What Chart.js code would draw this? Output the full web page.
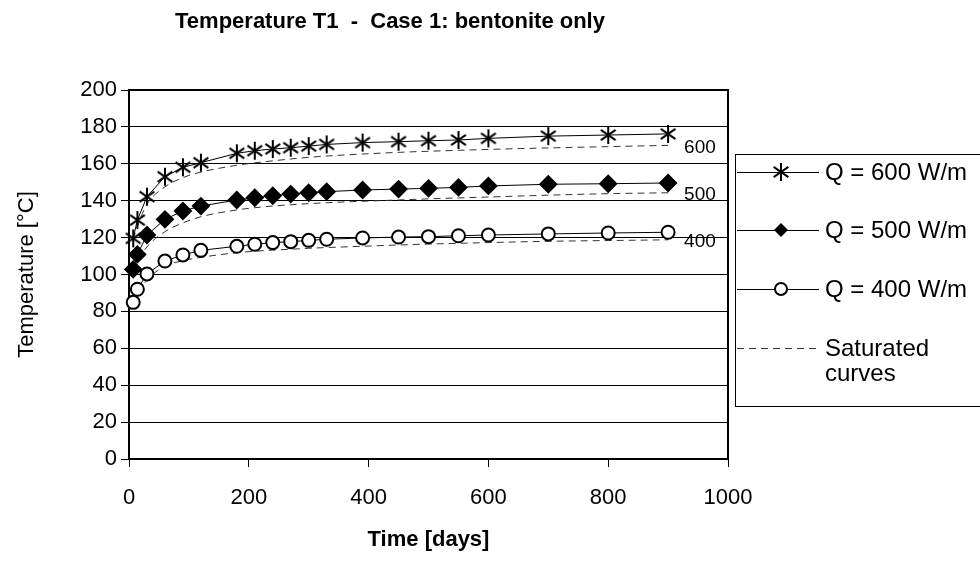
<!DOCTYPE html>
<html>
<head>
<meta charset="utf-8">
<script src="https://cdn.jsdelivr.net/npm/chart.js@4/dist/chart.umd.min.js"></script>
<style>
  html, body { margin: 0; padding: 0; background: #fff; }
  #wrap { position: relative; width: 980px; height: 573px; }
</style>
</head>
<body>
<div id="wrap"><canvas id="chart" width="980" height="573"></canvas></div>
<script>
// time in days
const days = [7, 14, 30, 60, 90, 120, 180, 210, 240, 270, 300, 330, 390, 450, 500, 550, 600, 700, 800, 900];

// computed temperatures [°C]
const q600 = [119.6, 129.5, 142.2, 153.0, 158.1, 160.6, 165.7, 167.1, 168.0, 168.7, 169.6, 170.5, 171.5, 172.0, 172.5, 172.9, 173.8, 175.0, 175.6, 176.2];
const q500 = [102.8, 110.9, 121.4, 129.9, 134.4, 137.1, 140.4, 141.6, 142.7, 143.6, 144.3, 144.9, 145.8, 146.3, 146.7, 147.2, 148.0, 148.9, 149.2, 149.6];
const q400 = [84.9, 92.0, 100.3, 107.3, 110.6, 113.1, 115.3, 116.4, 117.3, 117.8, 118.5, 119.1, 119.8, 120.3, 120.5, 121.0, 121.4, 122.0, 122.5, 122.9];

// saturated curves
const sat600 = [119.0, 126.0, 138.0, 147.5, 152.5, 155.5, 159.2, 160.5, 161.6, 162.6, 163.5, 164.2, 165.3, 166.2, 166.8, 167.3, 167.8, 168.6, 169.3, 170.0];
const sat500 = [102.0, 107.0, 115.0, 123.2, 128.0, 131.3, 135.0, 136.2, 137.1, 137.8, 138.4, 138.9, 139.7, 140.4, 141.0, 141.5, 142.0, 143.0, 143.8, 144.3];
const sat400 = [84.0, 89.0, 97.0, 104.5, 107.5, 109.3, 111.8, 112.6, 113.2, 113.7, 114.2, 114.6, 115.3, 116.0, 116.5, 116.9, 117.3, 118.0, 118.4, 118.8];

const curveLabels = ['600', '500', '400'];
const legendLabels = ['Q = 600 W/m', 'Q = 500 W/m', 'Q = 400 W/m', 'Saturated', 'curves'];
const titleText = 'Temperature T1  -  Case 1: bentonite only';

const FONT = "'Liberation Sans', Arial, sans-serif";

function asterisk(r) {
  const c = document.createElement('canvas');
  c.width = c.height = 2 * r + 4;
  const g = c.getContext('2d');
  const m = r + 2;
  g.strokeStyle = '#000';
  g.lineWidth = 2;
  g.beginPath();
  [90, 35, 145].forEach(a => {
    const t = a * Math.PI / 180;
    g.moveTo(m - r * Math.cos(t), m - r * Math.sin(t));
    g.lineTo(m + r * Math.cos(t), m + r * Math.sin(t));
  });
  g.stroke();
  return c;
}
const starImg = asterisk(9);

function pts(ys) { return days.map((d, i) => ({ x: d, y: ys[i] })); }

const solid = (label, ys, style, radius, bg) => ({
  label, data: pts(ys), borderColor: '#000', borderWidth: 1,
  pointStyle: style, pointRadius: radius, pointHoverRadius: radius,
  pointBackgroundColor: bg, pointBorderColor: '#000', pointBorderWidth: 2,
  tension: 0, clip: false, order: 0
});
const dashed = (label, ys) => ({
  label, data: pts(ys), borderColor: '#333', borderWidth: 1, borderDash: [7, 5],
  pointRadius: 0, cubicInterpolationMode: 'monotone', clip: false, order: 1
});

const boxPlugin = {
  id: 'box',
  beforeDatasetsDraw(chart) {
    const { ctx, chartArea: a } = chart;
    ctx.save();
    ctx.strokeStyle = '#000';
    ctx.lineWidth = 2;
    ctx.strokeRect(a.left, a.top, a.right - a.left, a.bottom - a.top);
    ctx.restore();
  },
  afterDraw(chart) {
    const { ctx } = chart;
    const xs = chart.scales.x, ys = chart.scales.y;
    ctx.save();
    // title
    ctx.fillStyle = '#000';
    ctx.font = 'bold 22px ' + FONT;
    ctx.textAlign = 'center';
    ctx.textBaseline = 'middle';
    ctx.fillText(titleText, 390, 22);
    // curve labels
    ctx.font = '19px ' + FONT;
    ctx.textAlign = 'left';
    [sat600, sat500, sat400].forEach((s, i) => {
      const n = s.length - 1;
      ctx.fillText(curveLabels[i], xs.getPixelForValue(days[n]) + 16, ys.getPixelForValue(s[n]) + 2);
    });
    // legend
    const L = 735, T = 154, B = 406;
    ctx.strokeStyle = '#000';
    ctx.lineWidth = 1;
    ctx.strokeRect(L + 0.5, T + 0.5, 990 - L, B - T);
    const rows = [172, 230, 289];
    const x1 = L + 2, x2 = L + 84, cx = L + 46, tx = L + 90;
    ctx.font = '24px ' + FONT;
    rows.forEach((y, i) => {
      ctx.beginPath();
      ctx.moveTo(x1, y + 0.5);
      ctx.lineTo(x2, y + 0.5);
      ctx.stroke();
      if (i === 0) {
        ctx.drawImage(starImg, cx - starImg.width / 2, y - starImg.height / 2);
      } else if (i === 1) {
        ctx.fillStyle = '#000';
        ctx.beginPath();
        ctx.moveTo(cx, y - 7); ctx.lineTo(cx + 7, y); ctx.lineTo(cx, y + 7); ctx.lineTo(cx - 7, y);
        ctx.closePath(); ctx.fill();
      } else {
        ctx.fillStyle = '#fff';
        ctx.beginPath(); ctx.arc(cx, y, 6, 0, Math.PI * 2); ctx.fill();
        ctx.lineWidth = 2; ctx.stroke(); ctx.lineWidth = 1;
      }
      ctx.fillStyle = '#000';
      ctx.fillText(legendLabels[i], tx, y + 1);
    });
    ctx.strokeStyle = '#333';
    ctx.setLineDash([7, 5]);
    ctx.beginPath();
    ctx.moveTo(x1, 348.5); ctx.lineTo(x2, 348.5); ctx.stroke();
    ctx.setLineDash([]);
    ctx.fillText(legendLabels[3], tx, 349);
    ctx.fillText(legendLabels[4], tx, 374);
    ctx.restore();
  }
};

new Chart(document.getElementById('chart'), {
  type: 'line',
  data: {
    datasets: [
      solid('Q = 600 W/m', q600, starImg, 9, '#000'),
      solid('Q = 500 W/m', q500, 'rectRot', 8, '#000'),
      solid('Q = 400 W/m', q400, 'circle', 6.5, '#fff'),
      dashed('Saturated 600', sat600),
      dashed('Saturated 500', sat500),
      dashed('Saturated 400', sat400)
    ]
  },
  options: {
    responsive: false,
    animation: false,
    events: [],
    layout: { padding: { top: 90, right: 252, left: 0, bottom: 0 } },
    plugins: { legend: { display: false }, title: { display: false }, tooltip: { enabled: false } },
    scales: {
      x: {
        type: 'linear', min: 0, max: 1000,
        afterFit(s) { s.height = 114; },
        ticks: { stepSize: 200, color: '#000', font: { family: FONT, size: 22 }, padding: 18, maxRotation: 0,
                 callback: v => String(v) },
        grid: { drawOnChartArea: false, drawTicks: true, tickLength: 8, color: '#000' },
        border: { color: '#000', width: 2 },
        title: { display: true, text: 'Time [days]', color: '#000', font: { family: FONT, size: 22, weight: 'bold' }, padding: { top: 0, bottom: 20 } }
      },
      y: {
        min: 0, max: 200,
        afterFit(s) { s.width = 129; },
        ticks: { stepSize: 20, color: '#000', font: { family: FONT, size: 22 }, padding: 4 },
        grid: { color: '#000', lineWidth: 1, tickLength: 8 },
        border: { color: '#000', width: 2 },
        title: { display: true, text: 'Temperature [°C]', color: '#000', font: { family: FONT, size: 22 }, padding: { top: 14, bottom: 0 } }
      }
    }
  },
  plugins: [boxPlugin]
});
</script>
</body>
</html>
